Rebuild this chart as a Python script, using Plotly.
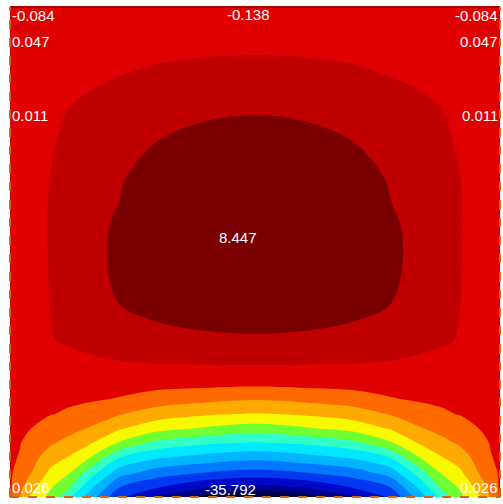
import plotly.graph_objects as go

# Grid nodes (half domain, mirrored about x = 0.5)
x_half = [0.0, 0.02, 0.041, 0.082, 0.12, 0.163, 0.224, 0.3, 0.4, 0.5]
y_nodes = [0.0, 0.02, 0.05, 0.08, 0.11, 0.14, 0.17, 0.2, 0.23, 0.27,
           0.32, 0.4, 0.53, 0.65, 0.78, 0.84, 0.9, 0.95, 1.0]

# Field values (rows follow y_nodes, columns follow x_half)
z_half = [
    [0.026, -3.20, -6.50, -10.00, -14.50, -19.50, -26.50, -30.50, -34.20, -35.792],
    [0.0, -2.50, -5.07, -8.86, -11.72, -17.38, -23.99, -26.66, -29.69, -30.95],
    [0.0, -1.50, -3.05, -6.89, -8.93, -13.53, -19.71, -22.44, -23.99, -24.91],
    [0.0, -0.55, -2.07, -4.86, -6.54, -9.25, -15.15, -17.80, -19.30, -20.24],
    [0.0, -0.30, -1.09, -2.92, -4.31, -5.98, -9.62, -13.07, -14.68, -15.44],
    [0.0, -0.20, -0.35, -1.31, -2.37, -3.59, -6.00, -8.19, -9.62, -10.54],
    [0.0, -0.12, -0.20, -0.30, -0.63, -1.58, -3.10, -4.82, -5.86, -6.42],
    [0.0, -0.05, -0.10, -0.15, -0.10, -0.08, -0.57, -1.72, -2.56, -3.10],
    [0.0, 0.00, 0.05, 0.25, 0.45, 0.55, 0.50, 0.45, 0.30, 0.10],
    [0.0, 0.15, 0.40, 1.00, 1.60, 2.00, 2.30, 2.45, 2.55, 2.60],
    [0.0, 0.50, 1.10, 2.40, 2.90, 3.30, 3.90, 4.60, 5.00, 5.15],
    [0.0, 0.70, 1.40, 2.60, 4.00, 4.75, 5.60, 6.50, 7.10, 7.30],
    [0.0, 0.76, 1.52, 2.70, 4.17, 4.93, 5.90, 7.18, 8.11, 8.447],
    [0.0, 0.70, 1.40, 2.60, 3.85, 4.56, 5.30, 6.63, 7.49, 7.80],
    [0.0, 0.50, 0.99, 1.93, 2.72, 3.21, 3.85, 4.68, 5.28, 5.50],
    [0.0, 0.37, 0.74, 1.44, 2.03, 2.39, 2.87, 3.49, 3.94, 4.10],
    [0.0, 0.23, 0.47, 0.91, 1.28, 1.52, 1.82, 2.21, 2.50, 2.60],
    [0.0, 0.11, 0.22, 0.43, 0.61, 0.72, 0.86, 1.05, 1.18, 1.23],
    [-0.084, -0.085, -0.09, -0.095, -0.10, -0.105, -0.11, -0.12, -0.13, -0.138],
]

z_min_label = -35.792
z_max_label = 8.447
n_bands = 15

band_colors = [
    "#00004a", "#00008c", "#0008c8", "#0038f0", "#0078ff",
    "#00b4ff", "#00e8ff", "#30ffc8", "#70ff30", "#f8f800",
    "#ffaa00", "#ff6a00", "#e00000", "#c00000", "#7a0000",
]

labels = [
    # text, x (paper), y (paper), xanchor
    ("-0.084", 0.0, 0.982, "left"),
    ("0.047", 0.0, 0.929, "left"),
    ("0.011", 0.0, 0.778, "left"),
    ("0.026", 0.0, 0.020, "left"),
    ("-0.084", 1.0, 0.982, "right"),
    ("0.047", 1.0, 0.929, "right"),
    ("0.011", 1.0, 0.778, "right"),
    ("0.026", 1.0, 0.020, "right"),
    ("-0.138", 0.486, 0.984, "center"),
    ("8.447", 0.465, 0.530, "center"),
    ("-35.792", 0.449, 0.016, "center"),
]

# Build full symmetric grid
x_nodes = x_half + [round(1 - v, 4) for v in reversed(x_half[:-1])]
z = [row + list(reversed(row[:-1])) for row in z_half]

size = (z_max_label - z_min_label) / n_bands
start = z_min_label + size
end = z_max_label - size
n_lev = n_bands - 1

colorscale = []
for j, c in enumerate(band_colors):
    lo = max(0.0, (j - 0.5) / n_lev)
    hi = min(1.0, (j + 0.5) / n_lev)
    colorscale.append([lo, c])
    colorscale.append([hi, c])

fig = go.Figure()
fig.add_trace(go.Contour(
    x=x_nodes, y=y_nodes, z=z,
    contours=dict(start=start, end=end, size=size, coloring="fill"),
    colorscale=colorscale,
    line=dict(width=0, smoothing=1.0),
    showscale=False,
    hoverinfo="skip",
))

for text, xp, yp, xa in labels:
    fig.add_annotation(text=text, x=xp, y=yp, xref="paper", yref="paper",
                       xanchor=xa, yanchor="middle", showarrow=False,
                       font=dict(family="Liberation Sans, Arial", size=15, color="white"))

# boundary styling
fig.add_shape(type="line", xref="paper", yref="paper", x0=0, x1=1, y0=1, y1=1,
              line=dict(color="#a00000", width=2))
for (x0, y0, x1, y1) in [(0, 0, 0, 1), (1, 0, 1, 1), (0, 0, 1, 0)]:
    fig.add_shape(type="line", xref="paper", yref="paper", x0=x0, y0=y0, x1=x1, y1=y1,
                  line=dict(color="#d06a10", width=2, dash="dash"))

fig.update_layout(
    width=503, height=504,
    margin=dict(l=10, r=3, t=7, b=7),
    paper_bgcolor="white", plot_bgcolor="white",
    xaxis=dict(visible=False, range=[0, 1]),
    yaxis=dict(visible=False, range=[0, 1]),
    showlegend=False,
)

fig.write_html("out.html", config={"displayModeBar": False},
               post_script="document.body.style.margin='0';")
